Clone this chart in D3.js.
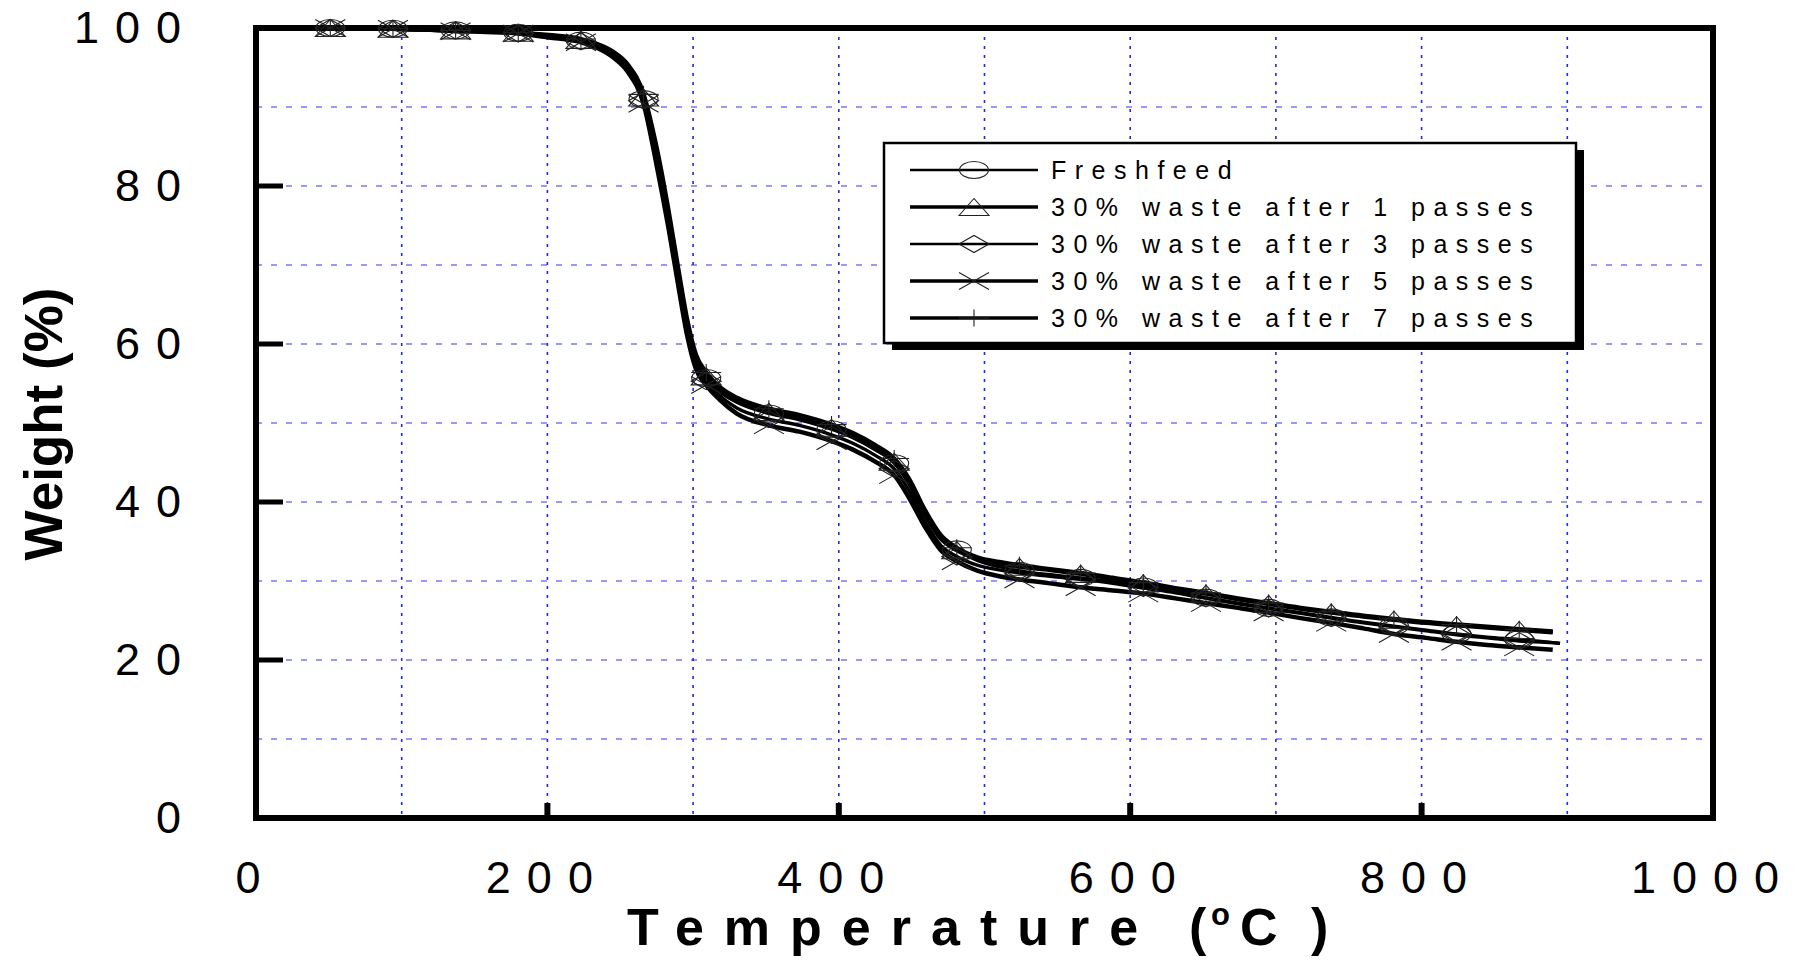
<!DOCTYPE html>
<html lang="en">
<head>
  <meta charset="UTF-8">
  <title>Weight vs Temperature</title>
  <script src="https://d3js.org/d3.v7.min.js"></script>
  <style>
    body { margin: 0; background: #fff; }
    svg { display: block; font-family: "Liberation Sans", Arial, sans-serif; }
    .grid-h { stroke: #3535f0; stroke-width: 1.2; stroke-dasharray: 6 9; }
    .grid-v { stroke: #2626e0; stroke-width: 1.6; stroke-dasharray: 3 6; }
    .curve { fill: none; stroke: #000; stroke-linejoin: round; stroke-linecap: butt; }
    .marker { fill: none; stroke: #222; stroke-width: 1.1; }
    .tick-label { font-size: 45px; letter-spacing: 16px; fill: #000; }
    .legend-text { font-size: 25px; letter-spacing: 8.5px; fill: #000; }
  </style>
</head>
<body>
<svg width="1796" height="961"></svg>
<script>
  // temperature grid (deg C)
  const temperature = [40, 51, 72, 94, 115, 137, 158, 180, 201, 223,
    235, 245, 255, 266, 275, 283, 290, 296, 302, 309,
    318, 330, 352, 373, 395, 410, 425, 438, 448, 459,
    470, 481, 495, 510, 524, 545, 566, 588, 609, 631,
    652, 674, 695, 717, 738, 760, 781, 803, 824, 845,
    867, 890, 895];

  // weight (%) per sample
  const freshfeed = [100, 100, 100, 99.9, 99.8, 99.7, 99.6, 99.4, 99.0, 98.4,
    97.7, 96.7, 95.0, 91.0, 83.6, 75.8, 68.2, 62.0, 57.8, 55.7,
    54.0, 52.6, 51.2, 50.4, 49.2, 48.1, 46.6, 44.9, 42.3, 38.4,
    35.3, 34.0, 32.6, 31.8, 31.3, 30.8, 30.4, 29.9, 29.3, 28.6,
    27.9, 27.2, 26.6, 26.0, 25.4, 24.8, 24.3, 23.8, 23.3, 22.9,
    22.6, 22.2, 22.1];
  const pass1 = [100, 100, 100, 99.9, 99.8, 99.7, 99.6, 99.4, 99.0, 98.5,
    97.8, 96.8, 95.1, 91.2, 84.0, 76.2, 68.6, 62.3, 58.0, 55.9,
    54.1, 52.8, 51.4, 50.6, 49.4, 48.3, 46.8, 45.1, 42.6, 38.6,
    35.4, 33.9, 32.8, 32.2, 31.8, 31.4, 30.9, 30.3, 29.7, 29.0,
    28.4, 27.7, 27.1, 26.5, 26.0, 25.5, 25.1, 24.7, 24.4, 24.1,
    23.8, 23.5, null];
  const pass3 = [100, 100, 100, 99.9, 99.8, 99.7, 99.6, 99.3, 98.9, 98.3,
    97.6, 96.6, 94.8, 90.8, 83.2, 75.4, 67.8, 61.6, 57.4, 55.3,
    53.5, 51.9, 50.5, 49.7, 48.5, 47.4, 45.9, 44.2, 41.5, 37.6,
    34.5, 33.1, 32.0, 31.4, 31.0, 30.6, 30.2, 29.7, 29.1, 28.5,
    27.8, 27.1, 26.5, 25.9, 25.3, 24.7, 24.2, 23.7, 23.2, 22.8,
    22.4, 22.2, 22.1];
  const pass5 = [100, 100, 100, 99.9, 99.8, 99.6, 99.5, 99.3, 98.8, 98.2,
    97.4, 96.3, 94.5, 90.4, 82.6, 74.8, 67.2, 61.0, 56.8, 54.8,
    53.0, 51.2, 49.7, 48.9, 47.7, 46.6, 45.1, 43.4, 40.6, 36.9,
    33.9, 32.5, 31.3, 30.6, 30.2, 29.7, 29.2, 28.8, 28.4, 27.8,
    27.2, 26.6, 26.0, 25.3, 24.7, 24.0, 23.3, 22.8, 22.3, 21.9,
    21.6, 21.3, null];
  const pass7 = [100, 100, 100, 99.9, 99.8, 99.7, 99.6, 99.4, 99.1, 98.6,
    97.9, 97.0, 95.4, 91.6, 84.8, 77.0, 69.3, 63.0, 58.6, 56.4,
    54.6, 53.2, 51.8, 51.0, 49.8, 48.7, 47.2, 45.5, 43.0, 39.0,
    35.8, 34.2, 33.0, 32.4, 32.0, 31.5, 31.0, 30.4, 29.8, 29.1,
    28.5, 27.8, 27.2, 26.6, 26.1, 25.6, 25.2, 24.8, 24.5, 24.2,
    23.9, 23.6, null];

  // temperatures that carry a symbol
  const markerTemps = [51, 94, 137, 180, 223, 266, 309, 352, 395, 438,
    481, 524, 566, 609, 652, 695, 738, 781, 824, 867];

  const seriesNames = ["Freshfeed", "30% waste after 1 passes", "30% waste after 3 passes",
    "30% waste after 5 passes", "30% waste after 7 passes"];
  const seriesSymbols = ["circle", "triangle", "diamond", "cross", "plus"];
  const seriesWidths = [3.2, 4.5, 3.4, 4.5, 4.5];

  const xTicks = [0, 200, 400, 600, 800, 1000];
  const yTicks = [0, 20, 40, 60, 80, 100];
  const xGrid = [100, 200, 300, 400, 500, 600, 700, 800, 900];
  const yGrid = [10, 20, 30, 40, 50, 60, 70, 80, 90];

  const series = [freshfeed, pass1, pass3, pass5, pass7].map((vals, i) => ({
    name: seriesNames[i],
    symbol: seriesSymbols[i],
    width: seriesWidths[i],
    points: temperature.map((t, j) => ({ t: t, w: vals[j] }))
  }));

  const plotL = 256, plotR = 1713, plotT = 28, plotB = 818;
  const x = d3.scaleLinear().domain([0, 1000]).range([plotL, plotR]);
  const y = d3.scaleLinear().domain([0, 100]).range([plotB, plotT]);

  const svg = d3.select("svg");
  svg.append("rect").attr("width", 1796).attr("height", 961).attr("fill", "#fff");

  // grid
  svg.append("g").selectAll("line").data(yGrid).enter().append("line")
    .attr("class", "grid-h")
    .attr("x1", plotL).attr("x2", plotR)
    .attr("y1", d => y(d)).attr("y2", d => y(d));
  svg.append("g").selectAll("line").data(xGrid).enter().append("line")
    .attr("class", "grid-v")
    .attr("x1", d => x(d)).attr("x2", d => x(d))
    .attr("y1", plotT).attr("y2", plotB);

  // frame
  svg.append("rect")
    .attr("x", plotL).attr("y", plotT)
    .attr("width", plotR - plotL).attr("height", plotB - plotT)
    .attr("fill", "none").attr("stroke", "#000").attr("stroke-width", 6);

  // inward major ticks
  svg.append("g").selectAll("line").data(yTicks.filter(d => d > 0 && d < 100)).enter().append("line")
    .attr("x1", plotL).attr("x2", plotL + 27)
    .attr("y1", d => y(d)).attr("y2", d => y(d))
    .attr("stroke", "#000").attr("stroke-width", 5);
  svg.append("g").selectAll("line").data(xTicks.filter(d => d > 0 && d < 1000)).enter().append("line")
    .attr("x1", d => x(d)).attr("x2", d => x(d))
    .attr("y1", plotB).attr("y2", plotB - 15)
    .attr("stroke", "#000").attr("stroke-width", 6);

  // tick labels
  svg.append("g").selectAll("text").data(yTicks).enter().append("text")
    .attr("class", "tick-label")
    .attr("x", 197).attr("y", d => y(d) + 15)
    .attr("text-anchor", "end")
    .text(d => d);
  svg.append("g").selectAll("text").data(xTicks).enter().append("text")
    .attr("class", "tick-label")
    .attr("x", d => x(d)).attr("y", 893)
    .attr("text-anchor", "middle")
    .text(d => d);

  // axis titles
  svg.append("text")
    .attr("transform", "translate(62,424) rotate(-90)")
    .attr("text-anchor", "middle")
    .style("font-size", "53px").style("font-weight", "bold")
    .text("Weight (%)");

  const xt = svg.append("text")
    .attr("y", 945)
    .style("font-size", "52px").style("font-weight", "bold");
  xt.append("tspan").attr("x", 627).style("letter-spacing", "20px").text("Temperature");
  xt.append("tspan").attr("x", 1189).text("(");
  xt.append("tspan").attr("x", 1211).attr("dy", -20).style("font-size", "31px").text("o");
  xt.append("tspan").attr("x", 1240).attr("dy", 20).text("C");
  xt.append("tspan").attr("x", 1311).text(")");

  // curves
  const line = d3.line()
    .defined(d => d.w !== null)
    .x(d => x(d.t)).y(d => y(d.w))
    .curve(d3.curveMonotoneX);

  svg.append("g").selectAll("path").data(series).enter().append("path")
    .attr("class", "curve")
    .attr("stroke-width", d => d.width)
    .attr("d", d => line(d.points));

  function symbolPath(type, cx, cy) {
    const hw = 15, hh = 8.5;
    const p = d3.path();
    if (type === "triangle") {
      p.moveTo(cx - hw, cy + hh); p.lineTo(cx, cy - hh); p.lineTo(cx + hw, cy + hh); p.closePath();
    } else if (type === "diamond") {
      p.moveTo(cx - hw, cy); p.lineTo(cx, cy - hh); p.lineTo(cx + hw, cy); p.lineTo(cx, cy + hh); p.closePath();
    } else if (type === "cross") {
      p.moveTo(cx - hw, cy - hh); p.lineTo(cx + hw, cy + hh);
      p.moveTo(cx - hw, cy + hh); p.lineTo(cx + hw, cy - hh);
    } else {
      p.moveTo(cx - hw, cy); p.lineTo(cx + hw, cy);
      p.moveTo(cx, cy - hh); p.lineTo(cx, cy + hh);
    }
    return p.toString();
  }

  function drawSymbol(g, type, cx, cy) {
    if (type === "circle") {
      g.append("ellipse").attr("class", "marker")
        .attr("cx", cx).attr("cy", cy).attr("rx", 14.5).attr("ry", 8.5);
    } else {
      g.append("path").attr("class", "marker").attr("d", symbolPath(type, cx, cy));
    }
  }

  const mg = svg.append("g");
  series.forEach(s => {
    s.points
      .filter(p => p.w !== null && markerTemps.includes(p.t))
      .forEach(p => drawSymbol(mg, s.symbol, x(p.t), y(p.w)));
  });

  // legend
  const lg = svg.append("g");
  const lx = 884, ly = 143, lw = 692, lh = 200;
  lg.append("rect").attr("x", lx + 8).attr("y", ly + 7).attr("width", lw).attr("height", lh).attr("fill", "#000");
  lg.append("rect").attr("x", lx).attr("y", ly).attr("width", lw).attr("height", lh)
    .attr("fill", "#fff").attr("stroke", "#000").attr("stroke-width", 2.5);

  series.forEach((s, i) => {
    const ry = 170 + i * 37;
    lg.append("line")
      .attr("x1", 910).attr("x2", 1038).attr("y1", ry).attr("y2", ry)
      .attr("stroke", "#000").attr("stroke-width", s.width - 0.8);
    drawSymbol(lg, s.symbol, 974, ry);
    lg.append("text").attr("class", "legend-text")
      .attr("x", 1051).attr("y", ry + 9)
      .text(s.name);
  });
</script>
</body>
</html>
